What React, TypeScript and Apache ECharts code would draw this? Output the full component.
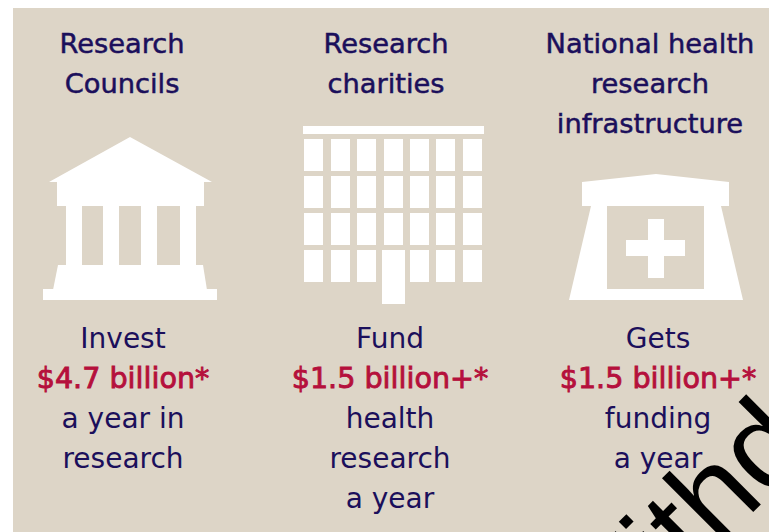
import React, { useEffect, useRef } from "react";
import * as echarts from "echarts";

const headings = [["Research", "Councils"], ["Research", "charities"], ["National health", "research", "infrastructure"]];
const intro = ["Invest", "Fund", "Gets"];
const amounts = ["$4.7 billion*", "$1.5 billion+*", "$1.5 billion+*"];
const tails = [["a year in", "research"], ["health", "research", "a year"], ["funding", "a year"]];
const watermark = "Withdrawn";

const NAVY = "#1b0f5b";
const RED = "#b5103c";
const BG = "#ddd5c7";
const FONT = "'DejaVu Sans', sans-serif";

const headX = [122, 386, 650];
const bodyX = [123, 390, 658];
const white = { fill: "#fff" };

function txt(text: string, x: number, y: number, fill: string, fontSize: number, bold = 0) {
  return {
    type: "text", x, y,
    style: { text, fill, fontSize, fontFamily: FONT, textAlign: "center", textVerticalAlign: "middle", stroke: bold ? fill : undefined, lineWidth: bold },
  };
}
const rect = (x: number, y: number, width: number, height: number, style: any = white) => ({ type: "rect", shape: { x, y, width, height }, style });
const poly = (points: number[][], style: any = white) => ({ type: "polygon", shape: { points }, style });

function App() {
  const ref = useRef<HTMLDivElement>(null);
  useEffect(() => {
    const chart = echarts.init(ref.current!, null, { renderer: "svg" });
    const elements: any[] = [rect(13, 8, 756, 524, { fill: BG })];
    // temple
    elements.push(
      poly([[130, 137], [212, 182], [204, 182], [204, 206], [57, 206], [57, 182], [49, 182]]),
      rect(66, 205, 16, 61), rect(103, 205, 16, 61), rect(141, 205, 16, 61), rect(180, 205, 16, 61),
      poly([[58, 265], [203, 265], [207, 290], [53, 290]]),
      rect(43, 289, 174, 11)
    );
    // building
    elements.push(rect(303, 126, 181, 8));
    [304, 331, 357, 384, 410, 436, 463].forEach((x) => {
      [139, 176, 213, 250].forEach((y) => {
        if (!(x === 384 && y === 250)) elements.push(rect(x, y, 19, 32));
      });
    });
    elements.push(rect(382, 250, 23, 54));
    // hospital
    elements.push(
      poly([[582, 182], [656, 174], [729, 182], [729, 206], [721, 206], [743, 300], [569, 300], [591, 206], [582, 206]]),
      rect(607, 206, 97, 83, { fill: BG }),
      rect(648, 219, 16, 59), rect(626, 240, 59, 16)
    );
    headings.forEach((lines, i) => lines.forEach((l, j) => elements.push(txt(l, headX[i], 43 + j * 40, NAVY, 27.3, 0.5))));
    intro.forEach((t, i) => elements.push(txt(t, bodyX[i], 338, NAVY, 28)));
    amounts.forEach((t, i) => elements.push(txt(t, bodyX[i], 378, RED, 28.6, 0.9)));
    tails.forEach((lines, i) => lines.forEach((l, j) => elements.push(txt(l, bodyX[i], 418 + j * 40, NAVY, 28))));
    elements.push({
      type: "text", x: 768, y: 438, rotation: Math.PI / 4, originX: 0, originY: 0,
      style: { text: watermark, fill: "#000", fontSize: 122, fontFamily: "'Liberation Sans', sans-serif", textAlign: "center", textVerticalAlign: "middle" },
    });
    chart.setOption({ animation: false, graphic: { elements } });
    return () => chart.dispose();
  }, []);
  return <div ref={ref} style={{ position: "absolute", left: 0, top: 0, width: 769, height: 532, background: "#fff" }} />;
}
export default App;
